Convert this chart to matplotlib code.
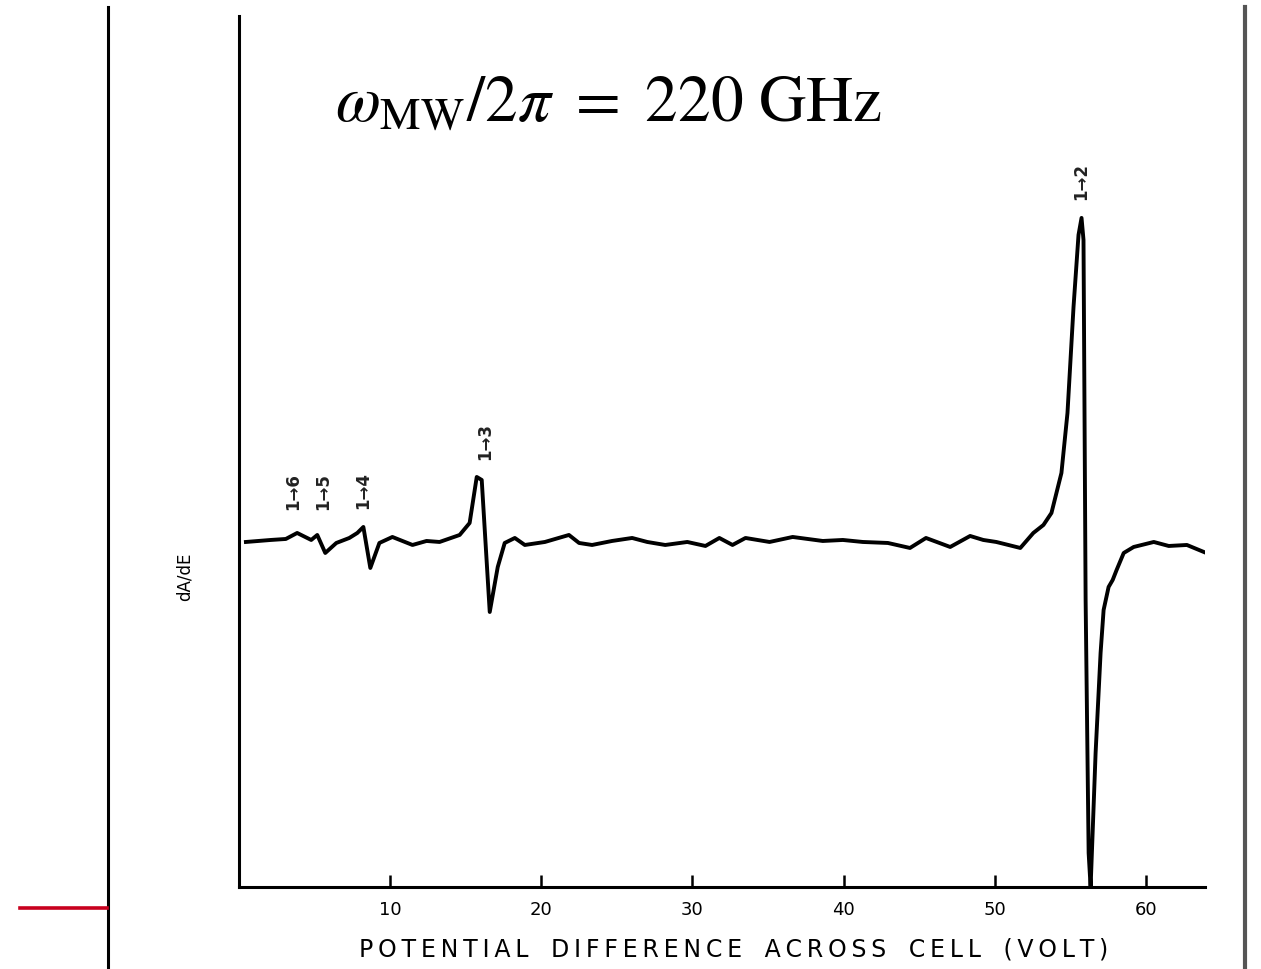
import matplotlib
matplotlib.use("Agg")
import matplotlib.pyplot as plt
from matplotlib.lines import Line2D

# trace: potential (V) vs dA/dE (arb. units)
volts = [0.46, 2.1, 3.1, 3.85, 4.78, 5.18, 5.71, 6.44, 7.30, 7.83, 8.23, 8.69,
         9.29, 10.15, 11.48, 12.41, 13.27, 14.60, 15.26, 15.73, 16.06, 16.59,
         17.12, 17.58, 18.25, 18.91, 20.24, 21.83, 22.50, 23.36, 24.68, 26.01,
         27.01, 28.20, 29.66, 30.86, 31.78, 32.65, 33.51, 35.10, 36.63, 38.62,
         39.95, 41.27, 42.93, 44.39, 45.45, 47.05, 48.37, 49.24, 50.10, 50.90,
         51.69, 52.55, 53.22, 53.75, 54.41, 54.81, 55.21, 55.54, 55.74, 55.87,
         56.01, 56.21, 56.34, 56.67, 57.00, 57.20, 57.53, 57.80, 58.06, 58.53,
         59.19, 60.52, 61.51, 62.71, 63.83]
dA_dE = [-0.1, 0.1, 0.2, 0.8, 0.1, 0.6, -1.2, -0.2, 0.3, 0.8, 1.4, -2.7,
         -0.2, 0.4, -0.4, 0.0, -0.1, 0.6, 1.8, 6.4, 6.1, -7.1,
         -2.6, -0.2, 0.3, -0.4, -0.1, 0.6, -0.2, -0.4, 0.0, 0.3,
         -0.1, -0.4, -0.1, -0.5, 0.3, -0.4, 0.3, -0.1, 0.4, 0.0,
         0.1, -0.1, -0.2, -0.7, 0.3, -0.6, 0.5, 0.1, -0.1, -0.4,
         -0.7, 0.8, 1.6, 2.8, 6.8, 12.8, 23.4, 30.6, 32.3, 30.1,
         -5.9, -31.2, -34.6, -21.2, -11.2, -6.9, -4.6, -3.9, -2.9, -1.2,
         -0.6, -0.1, -0.5, -0.4, -1.1]

# transition labels and where they sit
trans_labels = ["1\u21926", "1\u21925", "1\u21924", "1\u21923", "1\u21922"]
trans_x = [3.6, 5.6, 8.2, 16.3, 55.7]
trans_y = [4.9, 4.9, 5.0, 9.9, 35.9]

xticks = [10, 20, 30, 40, 50, 60]

plt.rcParams["mathtext.fontset"] = "stix"

fig = plt.figure(figsize=(12.61, 9.69), dpi=100)
ax = fig.add_axes([0.1895, 0.0846, 0.766, 0.899])

ax.plot(volts, dA_dE, color="black", lw=2.8, solid_joinstyle="round")
ax.set_xlim(0, 63.9)
ax.set_ylim(-34.6, 52.5)

for lab, x, y in zip(trans_labels, trans_x, trans_y):
    ax.text(x, y, lab, rotation=90, ha="center", va="center", fontsize=12,
            fontweight="bold", color="#222222")

ax.spines["top"].set_visible(False)
ax.spines["right"].set_visible(False)
ax.spines["left"].set_linewidth(2.2)
ax.spines["bottom"].set_linewidth(2.2)
ax.set_yticks([])
ax.set_xticks(xticks)
ax.set_xticklabels([str(t) for t in xticks])
ax.tick_params(axis="x", direction="in", length=9, width=1.8, pad=10, labelsize=13)

xl = "\u2009".join("POTENTIAL") + "   " + "\u2009".join("DIFFERENCE") + "   " + \
     "\u2009".join("ACROSS") + "   " + "\u2009".join("CELL") + "   " + "\u2009".join("(VOLT)")
ax.set_xlabel(xl, fontsize=17)
ax.xaxis.set_label_coords(0.512, -0.058)
ax.set_ylabel("dA/dE", fontsize=12)
ax.yaxis.set_label_coords(-0.047, 0.356)

fig.text(0.2656, 0.874, r"$\omega_{\mathrm{MW}}/2\pi\ =\ 220\ \mathrm{GHz}$",
         fontsize=47, ha="left", va="baseline")

# slide decorations around the scanned figure
fig.add_artist(Line2D([0.0856, 0.0856], [0.0, 0.9928], transform=fig.transFigure,
                      color="black", lw=2.2))
fig.add_artist(Line2D([0.9873, 0.9873], [0.0, 0.9928], transform=fig.transFigure,
                      color="#555555", lw=3.0))
fig.add_artist(Line2D([0.0159, 0.0848], [0.063, 0.063], transform=fig.transFigure,
                      color="#c8001e", lw=2.6))

plt.savefig("out.png", dpi=100)
